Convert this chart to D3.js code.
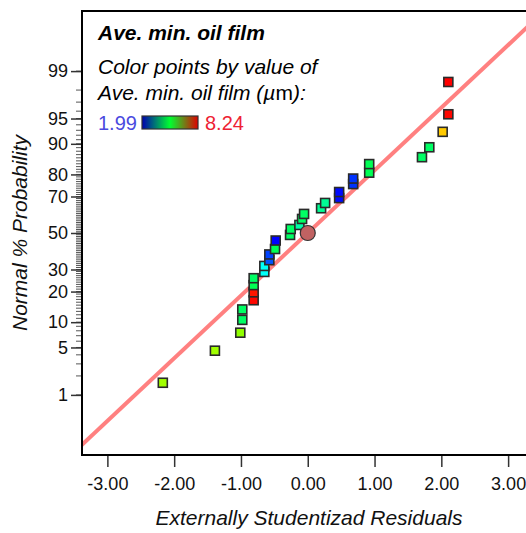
<!DOCTYPE html>
<html><head><meta charset="utf-8">
<script src="https://cdn.jsdelivr.net/npm/d3@7"></script>
<style>
html,body{margin:0;padding:0;background:#fff;overflow:hidden;}
text{font-family:"Liberation Sans",Arial,sans-serif;}
</style></head>
<body><svg id="c" width="526" height="533"></svg>
<script>
// ---- data ----
const residuals = [-2.17,-1.39,-1.01,-0.98,-0.98,-0.81,-0.81,-0.81,-0.81,-0.65,-0.65,-0.575,-0.575,-0.49,-0.48,-0.265,-0.255,-0.125,-0.085,-0.055,0.20,0.26,0.47,0.47,0.68,0.68,0.92,0.92,1.71,1.82,2.02,2.105,2.105];
const probabilities = [1.57,4.54,7.6,10.6,13.6,16.7,19.7,22.7,25.8,28.8,31.8,34.8,37.9,40.9,45.7,48.9,52.3,54.6,58.0,60.8,63.9,66.7,69.2,72.2,75.9,78.3,80.7,83.9,86.2,89.1,92.7,95.6,98.5];
const oilFilm = [6.1,6.1,6.0,4.5,4.5,8.2,8.1,4.6,4.5,3.6,3.6,2.5,2.4,4.6,2.0,4.5,4.5,4.1,4.5,4.5,4.2,4.2,2.05,2.05,2.3,2.3,4.6,4.6,4.5,4.5,7.0,8.2,8.24];
const highlightResidual = [0.0];
const highlightProb = [50];
const fitLineResiduals = [-3.6, 3.6];
const fitSlope = [0.9];
const xTicks = [-3,-2,-1,0,1,2,3];
const yMajorTicks = [1,5,10,20,30,50,70,80,90,95,99];
const colorRange = [1.99, 8.24];

// ---- helpers ----
function probit(p){ // inverse normal CDF (Acklam)
  const a=[-3.969683028665376e+01,2.209460984245205e+02,-2.759285104469687e+02,1.383577518672690e+02,-3.066479806614716e+01,2.506628277459239e+00];
  const b=[-5.447609879822406e+01,1.615858368580409e+02,-1.556989798598866e+02,6.680131188771972e+01,-1.328068155288572e+01];
  const c=[-7.784894002430293e-03,-3.223964580411365e-01,-2.400758277161838e+00,-2.549732539343734e+00,4.374664141464968e+00,2.938163982698783e+00];
  const d=[7.784695709041462e-03,3.224671290700398e-01,2.445134137142996e+00,3.754408661907416e+00];
  const pl=0.02425, ph=1-pl; let q,r;
  if(p<pl){q=Math.sqrt(-2*Math.log(p));return (((((c[0]*q+c[1])*q+c[2])*q+c[3])*q+c[4])*q+c[5])/((((d[0]*q+d[1])*q+d[2])*q+d[3])*q+1);}
  if(p<=ph){q=p-0.5;r=q*q;return (((((a[0]*r+a[1])*r+a[2])*r+a[3])*r+a[4])*r+a[5])*q/(((((b[0]*r+b[1])*r+b[2])*r+b[3])*r+b[4])*r+1);}
  q=Math.sqrt(-2*Math.log(1-p));return -(((((c[0]*q+c[1])*q+c[2])*q+c[3])*q+c[4])*q+c[5])/((((d[0]*q+d[1])*q+d[2])*q+d[3])*q+1);
}

const svg = d3.select("#c");
const L=82, R=533.5, T=11, B=455;
const x = d3.scaleLinear().domain([-3.38,3.38]).range([L,R]);
const zs = d3.scaleLinear().domain([-3.19,3.19]).range([B,T]);
const y = p => zs(probit(p/100));

const span = colorRange[1]-colorRange[0];
const color = d3.scaleLinear()
  .domain([0,0.25,0.5,0.75,1].map(t=>colorRange[0]+t*span))
  .range(["#0000ff","#00ffff","#00ff00","#ffff00","#ff0000"]);

const defs = svg.append("defs");
defs.append("clipPath").attr("id","plot")
  .append("rect").attr("x",L).attr("y",T).attr("width",R-L).attr("height",B-T);

// fit line
const g = svg.append("g").attr("clip-path","url(#plot)");
g.append("line")
  .attr("x1",x(fitLineResiduals[0])).attr("y1",zs(fitSlope[0]*fitLineResiduals[0]))
  .attr("x2",x(fitLineResiduals[1])).attr("y2",zs(fitSlope[0]*fitLineResiduals[1]))
  .attr("stroke","#ff8080").attr("stroke-width",4);

// points
const pts = residuals.map((r,i)=>({r,p:probabilities[i],v:oilFilm[i]}));
g.selectAll("rect.pt").data(pts).enter().append("rect").attr("class","pt")
  .attr("x",d=>x(d.r)-4.5).attr("y",d=>y(d.p)-4.5)
  .attr("width",9).attr("height",9)
  .attr("fill",d=>color(d.v)).attr("stroke","#2a2a2a").attr("stroke-width",1.6);

g.selectAll("circle.hl").data(highlightResidual).enter().append("circle")
  .attr("cx",d=>x(d)).attr("cy",(d,i)=>y(highlightProb[i])).attr("r",7.5)
  .attr("fill","#c06262").attr("stroke","#333").attr("stroke-width",1.2);

// frame
svg.append("rect").attr("x",L).attr("y",T).attr("width",R-L).attr("height",B-T)
  .attr("fill","none").attr("stroke","#000").attr("stroke-width",2);

// x axis
const fmt = d => d.toFixed(2);
const xa = svg.append("g").attr("transform",`translate(0,${B+1})`)
  .call(d3.axisBottom(x).tickValues(xTicks).tickFormat(fmt).tickSize(11).tickSizeOuter(0));
xa.select(".domain").remove();
xa.selectAll("line").attr("stroke","#333").attr("stroke-width",1.5);
xa.selectAll("text").attr("font-size",18).attr("fill","#111").attr("y",34).attr("dy",0)
  .attr("font-family","'Liberation Sans',Arial,sans-serif");

// y axis
const minor = d3.range(1,100);
const ya = svg.append("g").attr("transform",`translate(${L-1},0)`);
ya.selectAll("line.mn").data(minor).enter().append("line")
  .attr("x1",-5).attr("x2",0).attr("y1",d=>y(d)).attr("y2",d=>y(d))
  .attr("stroke","#555").attr("stroke-width",1);
const yAxis = d3.axisLeft(zs).tickValues(yMajorTicks.map(p=>probit(p/100)))
  .tickFormat((d,i)=>yMajorTicks[i]).tickSize(10).tickSizeOuter(0);
ya.call(yAxis);
ya.select(".domain").remove();
ya.selectAll(".tick line").attr("stroke","#333").attr("stroke-width",1.5);
ya.selectAll(".tick text").attr("font-size",18).attr("fill","#111").attr("x",-13)
  .attr("font-family","'Liberation Sans',Arial,sans-serif");

// axis titles
svg.append("text").attr("x",309).attr("y",525).attr("text-anchor","middle")
  .attr("font-size",21).attr("font-style","italic").attr("fill","#111")
  .text("Externally Studentizad Residuals");
svg.append("text").attr("transform",`translate(27,${(T+B)/2}) rotate(-90)`).attr("text-anchor","middle")
  .attr("font-size",21).attr("font-style","italic").attr("fill","#111")
  .text("Normal % Probability");

// legend
svg.append("text").attr("x",98).attr("y",40).attr("font-size",21).attr("font-weight","bold")
  .attr("font-style","italic").attr("fill","#000").text("Ave. min. oil film");
svg.append("text").attr("x",98).attr("y",74).attr("font-size",21)
  .attr("font-style","italic").attr("fill","#000").text("Color points by value of");
const t3 = svg.append("text").attr("x",98).attr("y",100).attr("font-size",21)
  .attr("font-style","italic").attr("fill","#000");
t3.append("tspan").text("Ave. min. oil film (µ");
t3.append("tspan").attr("font-style","normal").text("m");
t3.append("tspan").text("):");
const grad = defs.append("linearGradient").attr("id","lg");
grad.selectAll("stop").data([["0%","#0000b0"],["50%","#00ff30"],["100%","#e00000"]]).enter()
  .append("stop").attr("offset",d=>d[0]).attr("stop-color",d=>d[1]);
svg.append("text").attr("x",98).attr("y",130).attr("font-size",20).attr("fill","#4a4ae0").text(colorRange[0].toFixed(2));
svg.append("rect").attr("x",142).attr("y",116).attr("width",56).attr("height",13)
  .attr("fill","url(#lg)").attr("stroke","#333").attr("stroke-width",1.2);
svg.append("text").attr("x",205).attr("y",130).attr("font-size",20).attr("fill","#ee2233").text(colorRange[1].toFixed(2));
</script></body></html>
